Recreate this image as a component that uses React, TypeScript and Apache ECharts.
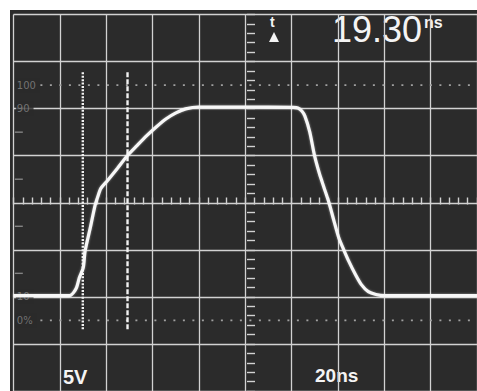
import React, { useEffect, useRef } from "react";
import * as echarts from "echarts";

// Trace: time (ns, 20 ns/div) and level (% of amplitude)
const TIME_NS = [
  0, 23.8, 24.6, 25.9, 27.2, 28.4, 30.1, 30.9, 33.1, 35.2, 36.4, 37.7, 40.6, 44.8,
  49.1, 53.3, 57.5, 61.7, 65.9, 70.1, 74.3, 79.8, 99.6, 120.6, 122.7, 124.4, 125.7,
  127.8, 129.9, 132.0, 134.1, 136.2, 138.3, 140.4, 142.5, 144.6, 147.6, 150.1, 153.1,
  156.4, 160.2, 200,
];
const TRACE_PCT = [
  10.5, 10.5, 10.6, 11.8, 13.9, 18.1, 22.4, 29.5, 39.2, 48.9, 52.7, 56.1, 59.5, 64.6,
  70.0, 74.3, 78.5, 82.3, 85.7, 88.2, 89.9, 90.7, 90.7, 90.5, 90.3, 89.0, 86.9,
  80.2, 70.0, 62.4, 56.1, 49.8, 42.2, 35.0, 30.0, 25.3, 19.4, 15.2, 12.2,
  11.0, 10.5, 10.5,
];

// Measurement cursors (ns) and their vertical span (%)
const CURSOR_NS = [29.9, 49.2];
const CURSOR_SPAN_PCT = [-3.8, 105.5];

// Reference levels and labels on the left edge
const LEVEL_PCT = [100, 0];
const LEFT_LABELS = ["100", "90", "10", "0%"];
const LEFT_LABEL_PCT = [100, 90, 10, 0];
const EDGE_TICK_PCT = [20, 40, 60, 80];

// Readouts
const READOUT = "19.30";
const READOUT_UNIT = "ns";
const VOLT_LABEL = "5V";
const TIME_LABEL = "20ns";

// Screen: 10 x 8 divisions; 0% sits 1.5 div above the bottom, 20 %/div
const pctToDiv = (p: number) => 1.5 + p / 20;

const BG = "#2b2b2b";
const GRID = "#d2d2d2";

export default function App() {
  const ref = useRef<HTMLDivElement>(null);
  useEffect(() => {
    if (!ref.current) return;
    const chart = echarts.init(ref.current, null, { renderer: "svg" });
    const trace = TIME_NS.map((t, i) => [t, pctToDiv(TRACE_PCT[i])]);
    const option: any = {
      animation: false,
      backgroundColor: BG,
      grid: { left: 3.5, top: 4.5, width: 475, height: 380, containLabel: false },
      xAxis: [
        {
          type: "value", min: 0, max: 200, interval: 20,
          axisLine: { show: false }, axisTick: { show: false }, axisLabel: { show: false },
          splitLine: { show: true, lineStyle: { color: GRID, width: 1.3 } },
        },
        {
          type: "value", min: 0, max: 200, interval: 4, position: "bottom", offset: -186.5,
          axisLine: { show: false }, axisLabel: { show: false }, splitLine: { show: false },
          axisTick: { show: true, inside: true, length: 7, lineStyle: { color: GRID, width: 1.4 } },
        },
      ],
      yAxis: [
        {
          type: "value", min: 0, max: 8, interval: 1,
          axisLine: { show: false }, axisTick: { show: false }, axisLabel: { show: false },
          splitLine: { show: true, lineStyle: { color: GRID, width: 1.3 } },
        },
        {
          type: "value", min: 0, max: 8, interval: 0.2, position: "left", offset: -233.5,
          axisLine: { show: false }, axisLabel: { show: false }, splitLine: { show: false },
          axisTick: { show: true, inside: true, length: 8, lineStyle: { color: GRID, width: 1.4 } },
        },
      ],
      series: [
        // level lines 0% / 100%
        ...LEVEL_PCT.map((p) => ({
          type: "line", xAxisIndex: 0, yAxisIndex: 0, symbol: "none", silent: true, z: 2,
          data: [[11.6, pctToDiv(p)], [200, pctToDiv(p)]],
          lineStyle: { color: "#a0a0a0", width: 1.6, type: [2, 7.5] },
        })),
        // left edge ticks
        {
          type: "scatter", xAxisIndex: 0, yAxisIndex: 0, silent: true, z: 2,
          symbol: "rect", symbolSize: [8, 1.4],
          itemStyle: { color: "#9a9a9a" },
          data: EDGE_TICK_PCT.map((p) => [2.3, pctToDiv(p)]),
        },
        // left labels
        {
          type: "scatter", xAxisIndex: 0, yAxisIndex: 0, silent: true, z: 3,
          symbolSize: 0,
          data: LEFT_LABEL_PCT.map((p, i) => ({ value: [1.0, pctToDiv(p)], name: LEFT_LABELS[i] })),
          label: {
            show: true, position: "right", distance: 0,
            formatter: (d: any) => d.name,
            color: "#868686", fontSize: 10, fontFamily: "DejaVu Sans",
            backgroundColor: BG, padding: [2, 4, 2, 1],
          },
        },
        // cursors
        ...CURSOR_NS.map((t, i) => ({
          type: "line", xAxisIndex: 0, yAxisIndex: 0, symbol: "none", silent: true, z: 4,
          data: CURSOR_SPAN_PCT.map((p) => [t, pctToDiv(p)]),
          lineStyle: { color: "#f2f2f2", width: 2.4, type: i === 0 ? [2, 1.4] : [5, 2] },
        })),
        // trace
        {
          type: "line", xAxisIndex: 0, yAxisIndex: 0, symbol: "none", smooth: 0.25, z: 5,
          data: trace,
          lineStyle: { color: "#f7f7f7", width: 3.2, shadowBlur: 2, shadowColor: "rgba(255,255,255,0.5)" },
        },
      ],
      graphic: [
        {
          type: "text", left: 322, top: 1,
          style: { text: READOUT, fill: "#f4f4f4", font: "36px 'Liberation Sans', Arial, sans-serif" },
        },
        {
          type: "text", left: 414, top: 4,
          style: { text: READOUT_UNIT, fill: "#f4f4f4", font: "bold 16px 'Liberation Sans', Arial, sans-serif" },
        },
        {
          type: "text", left: 260, top: 5,
          style: { text: "t", fill: "#f4f4f4", font: "bold 14px 'Liberation Sans', Arial, sans-serif" },
        },
        {
          type: "polygon",
          shape: { points: [[259, 32], [269, 32], [264, 22]] },
          style: { fill: "#f4f4f4" },
        },
        {
          type: "text", left: 53, top: 357,
          style: { text: VOLT_LABEL, fill: "#f4f4f4", font: "bold 20px 'Liberation Sans', Arial, sans-serif" },
        },
        {
          type: "text", left: 305, top: 356,
          style: { text: TIME_LABEL, fill: "#f4f4f4", font: "bold 19px 'Liberation Sans', Arial, sans-serif" },
        },
      ],
    };
    chart.setOption(option);
    return () => chart.dispose();
  }, []);
  return (
    <div
      ref={ref}
      style={{ position: "absolute", left: 10, top: 10, width: 467, height: 381 }}
    />
  );
}
